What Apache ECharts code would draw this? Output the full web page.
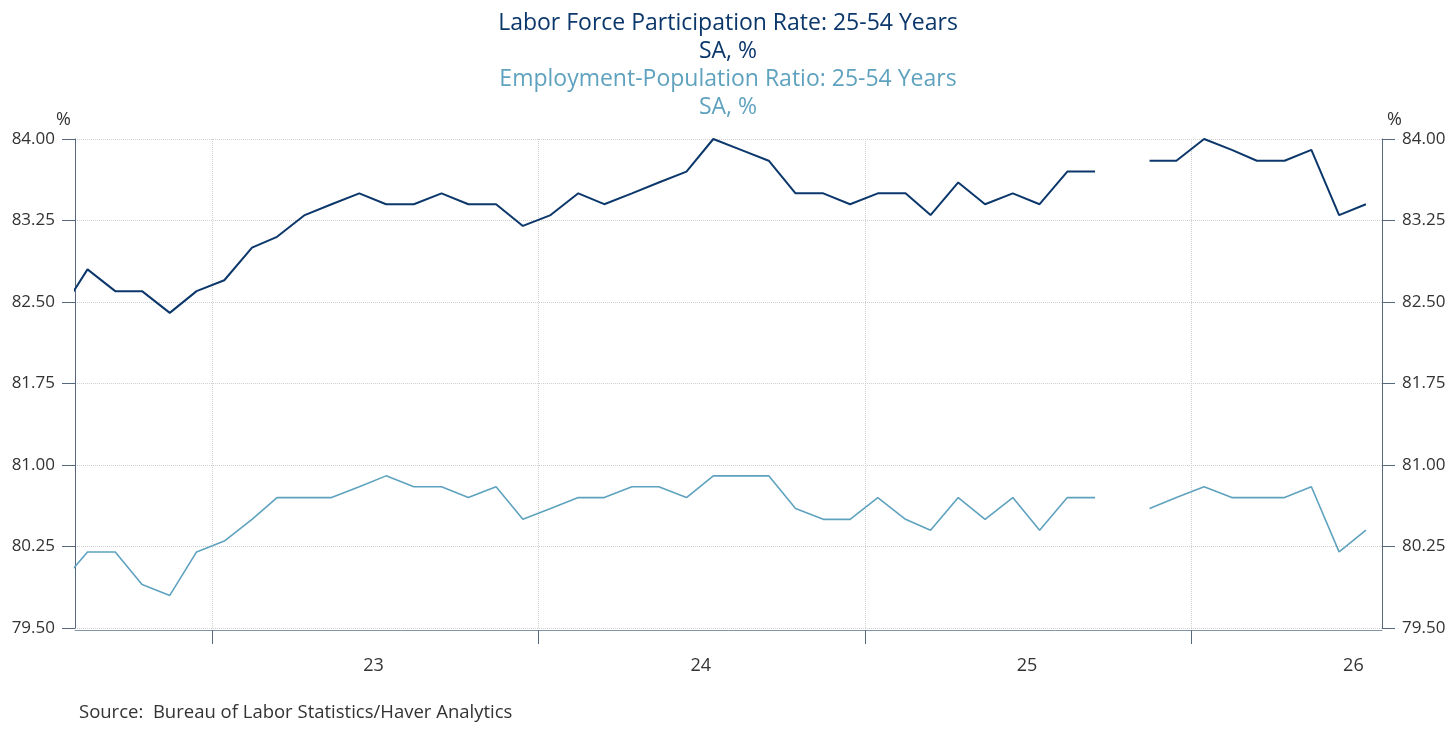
<!DOCTYPE html>
<html>
<head>
<meta charset="utf-8">
<title>Labor Force Participation Rate and Employment-Population Ratio: 25-54 Years</title>
<script src="https://cdn.jsdelivr.net/npm/echarts@6/dist/echarts.min.js"></script>
<style>
  html, body { margin: 0; padding: 0; background: #fff; }
  #chart { width: 1456px; height: 730px; }
</style>
</head>
<body>
<div id="chart"></div>
<script>
// months, Jul 2022 .. Jul 2026 (Oct 2025 not collected)
var months = [
  '2022-07', '2022-08', '2022-09', '2022-10', '2022-11', '2022-12',
  '2023-01', '2023-02', '2023-03', '2023-04', '2023-05', '2023-06',
  '2023-07', '2023-08', '2023-09', '2023-10', '2023-11', '2023-12',
  '2024-01', '2024-02', '2024-03', '2024-04', '2024-05', '2024-06',
  '2024-07', '2024-08', '2024-09', '2024-10', '2024-11', '2024-12',
  '2025-01', '2025-02', '2025-03', '2025-04', '2025-05', '2025-06',
  '2025-07', '2025-08', '2025-09', '2025-10', '2025-11', '2025-12',
  '2026-01', '2026-02', '2026-03', '2026-04', '2026-05', '2026-06',
  '2026-07'
];

// Labor force participation rate, 25-54 years
var lfpr = [
  82.4, 82.8, 82.6, 82.6, 82.4, 82.6,
  82.7, 83.0, 83.1, 83.3, 83.4, 83.5,
  83.4, 83.4, 83.5, 83.4, 83.4, 83.2,
  83.3, 83.5, 83.4, 83.5, 83.6, 83.7,
  84.0, 83.9, 83.8, 83.5, 83.5, 83.4,
  83.5, 83.5, 83.3, 83.6, 83.4, 83.5,
  83.4, 83.7, 83.7, null, 83.8, 83.8,
  84.0, 83.9, 83.8, 83.8, 83.9, 83.3,
  83.4
];

// Employment-population ratio, 25-54 years
var epop = [
  79.9, 80.2, 80.2, 79.9, 79.8, 80.2,
  80.3, 80.5, 80.7, 80.7, 80.7, 80.8,
  80.9, 80.8, 80.8, 80.7, 80.8, 80.5,
  80.6, 80.7, 80.7, 80.8, 80.8, 80.7,
  80.9, 80.9, 80.9, 80.6, 80.5, 80.5,
  80.7, 80.5, 80.4, 80.7, 80.5, 80.7,
  80.4, 80.7, 80.7, null, 80.6, 80.7,
  80.8, 80.7, 80.7, 80.7, 80.8, 80.2,
  80.4
];

// year boundaries (ticks) and year label positions
var yearTicks = ['2023-01-01', '2024-01-01', '2025-01-01', '2026-01-01'];
var yearLabels = ['2023-07-01', '2024-07-01', '2025-07-01', '2026-07-01'];

var xMin = '2022-08-01';
var xMax = '2026-08-02';

var darkBlue = '#0b376b';
var lightBlue = '#5fa2bf';
var font = 'Open Sans';

function ts(s) {
  var p = s.split('-');
  return Date.UTC(+p[0], +p[1] - 1, +p[2]);
}

function pairs(vals) {
  var out = [];
  for (var i = 0; i < months.length; i++) {
    out.push([ts(months[i] + '-15'), vals[i]]);
  }
  return out;
}

var myChart = echarts.init(document.getElementById('chart'));

function yAxisOf(pos) {
  var left = pos === 'left';
  return {
    type: 'value',
    position: pos,
    min: 79.5,
    max: 84,
    interval: 0.75,
    name: '%',
    nameLocation: 'end',
    nameGap: 10,
    nameTextStyle: {
      color: '#333', fontFamily: font, fontSize: 18,
      align: left ? 'right' : 'left',
      padding: left ? [0, 4, 0, 0] : [0, 0, 0, 5]
    },
    axisLine: { show: true, lineStyle: { color: '#56687e', width: 1 } },
    axisTick: { show: true, inside: false, length: 13, lineStyle: { color: '#56687e' } },
    splitLine: { show: left, lineStyle: { color: '#d0d0d0', type: 'dotted', width: 1 } },
    axisLabel: {
      color: '#333',
      fontFamily: font,
      fontSize: 17,
      margin: 20,
      formatter: function (v) { return v.toFixed(2); }
    }
  };
}

var option = {
  animation: false,
  backgroundColor: '#fff',
  title: [
    {
      text: 'Labor Force Participation Rate: 25-54 Years\nSA, %',
      left: 'center',
      top: 4,
      textStyle: { color: darkBlue, fontFamily: font, fontSize: 23, fontWeight: 'normal', lineHeight: 28 }
    },
    {
      text: 'Employment-Population Ratio: 25-54 Years\nSA, %',
      left: 'center',
      top: 60,
      textStyle: { color: lightBlue, fontFamily: font, fontSize: 23, fontWeight: 'normal', lineHeight: 28 }
    }
  ],
  grid: {
    left: 75,
    right: 74,
    top: 139,
    bottom: 102
  },
  xAxis: {
    type: 'value',
    min: ts(xMin),
    max: ts(xMax),
    offset: 2,
    axisLine: { show: true, lineStyle: { color: '#8494a8', width: 1 } },
    axisTick: {
      show: true,
      length: 14,
      customValues: yearTicks.map(ts),
      lineStyle: { color: '#56687e' }
    },
    splitLine: {
      show: true,
      lineStyle: { color: '#d0d0d0', type: 'dotted', width: 1 }
    },
    axisLabel: {
      customValues: yearLabels.map(ts),
      color: '#333',
      fontFamily: font,
      fontSize: 18,
      margin: 27,
      formatter: function (v) {
        return String(new Date(v).getUTCFullYear()).slice(2);
      }
    }
  },
  yAxis: [yAxisOf('left'), yAxisOf('right')],
  graphic: [
    {
      type: 'text',
      left: 79,
      top: 703,
      style: {
        text: 'Source:  Bureau of Labor Statistics/Haver Analytics',
        fill: '#333',
        font: '18.5px "Open Sans"'
      }
    }
  ],
  series: [
    {
      name: 'Labor Force Participation Rate: 25-54 Years',
      type: 'line',
      data: pairs(lfpr),
      showSymbol: false,
      connectNulls: false,
      clip: true,
      lineStyle: { color: darkBlue, width: 2 },
      itemStyle: { color: darkBlue }
    },
    {
      name: 'Employment-Population Ratio: 25-54 Years',
      type: 'line',
      data: pairs(epop),
      showSymbol: false,
      connectNulls: false,
      clip: true,
      lineStyle: { color: lightBlue, width: 1.6 },
      itemStyle: { color: lightBlue }
    }
  ]
};

myChart.setOption(option);
</script>
</body>
</html>
